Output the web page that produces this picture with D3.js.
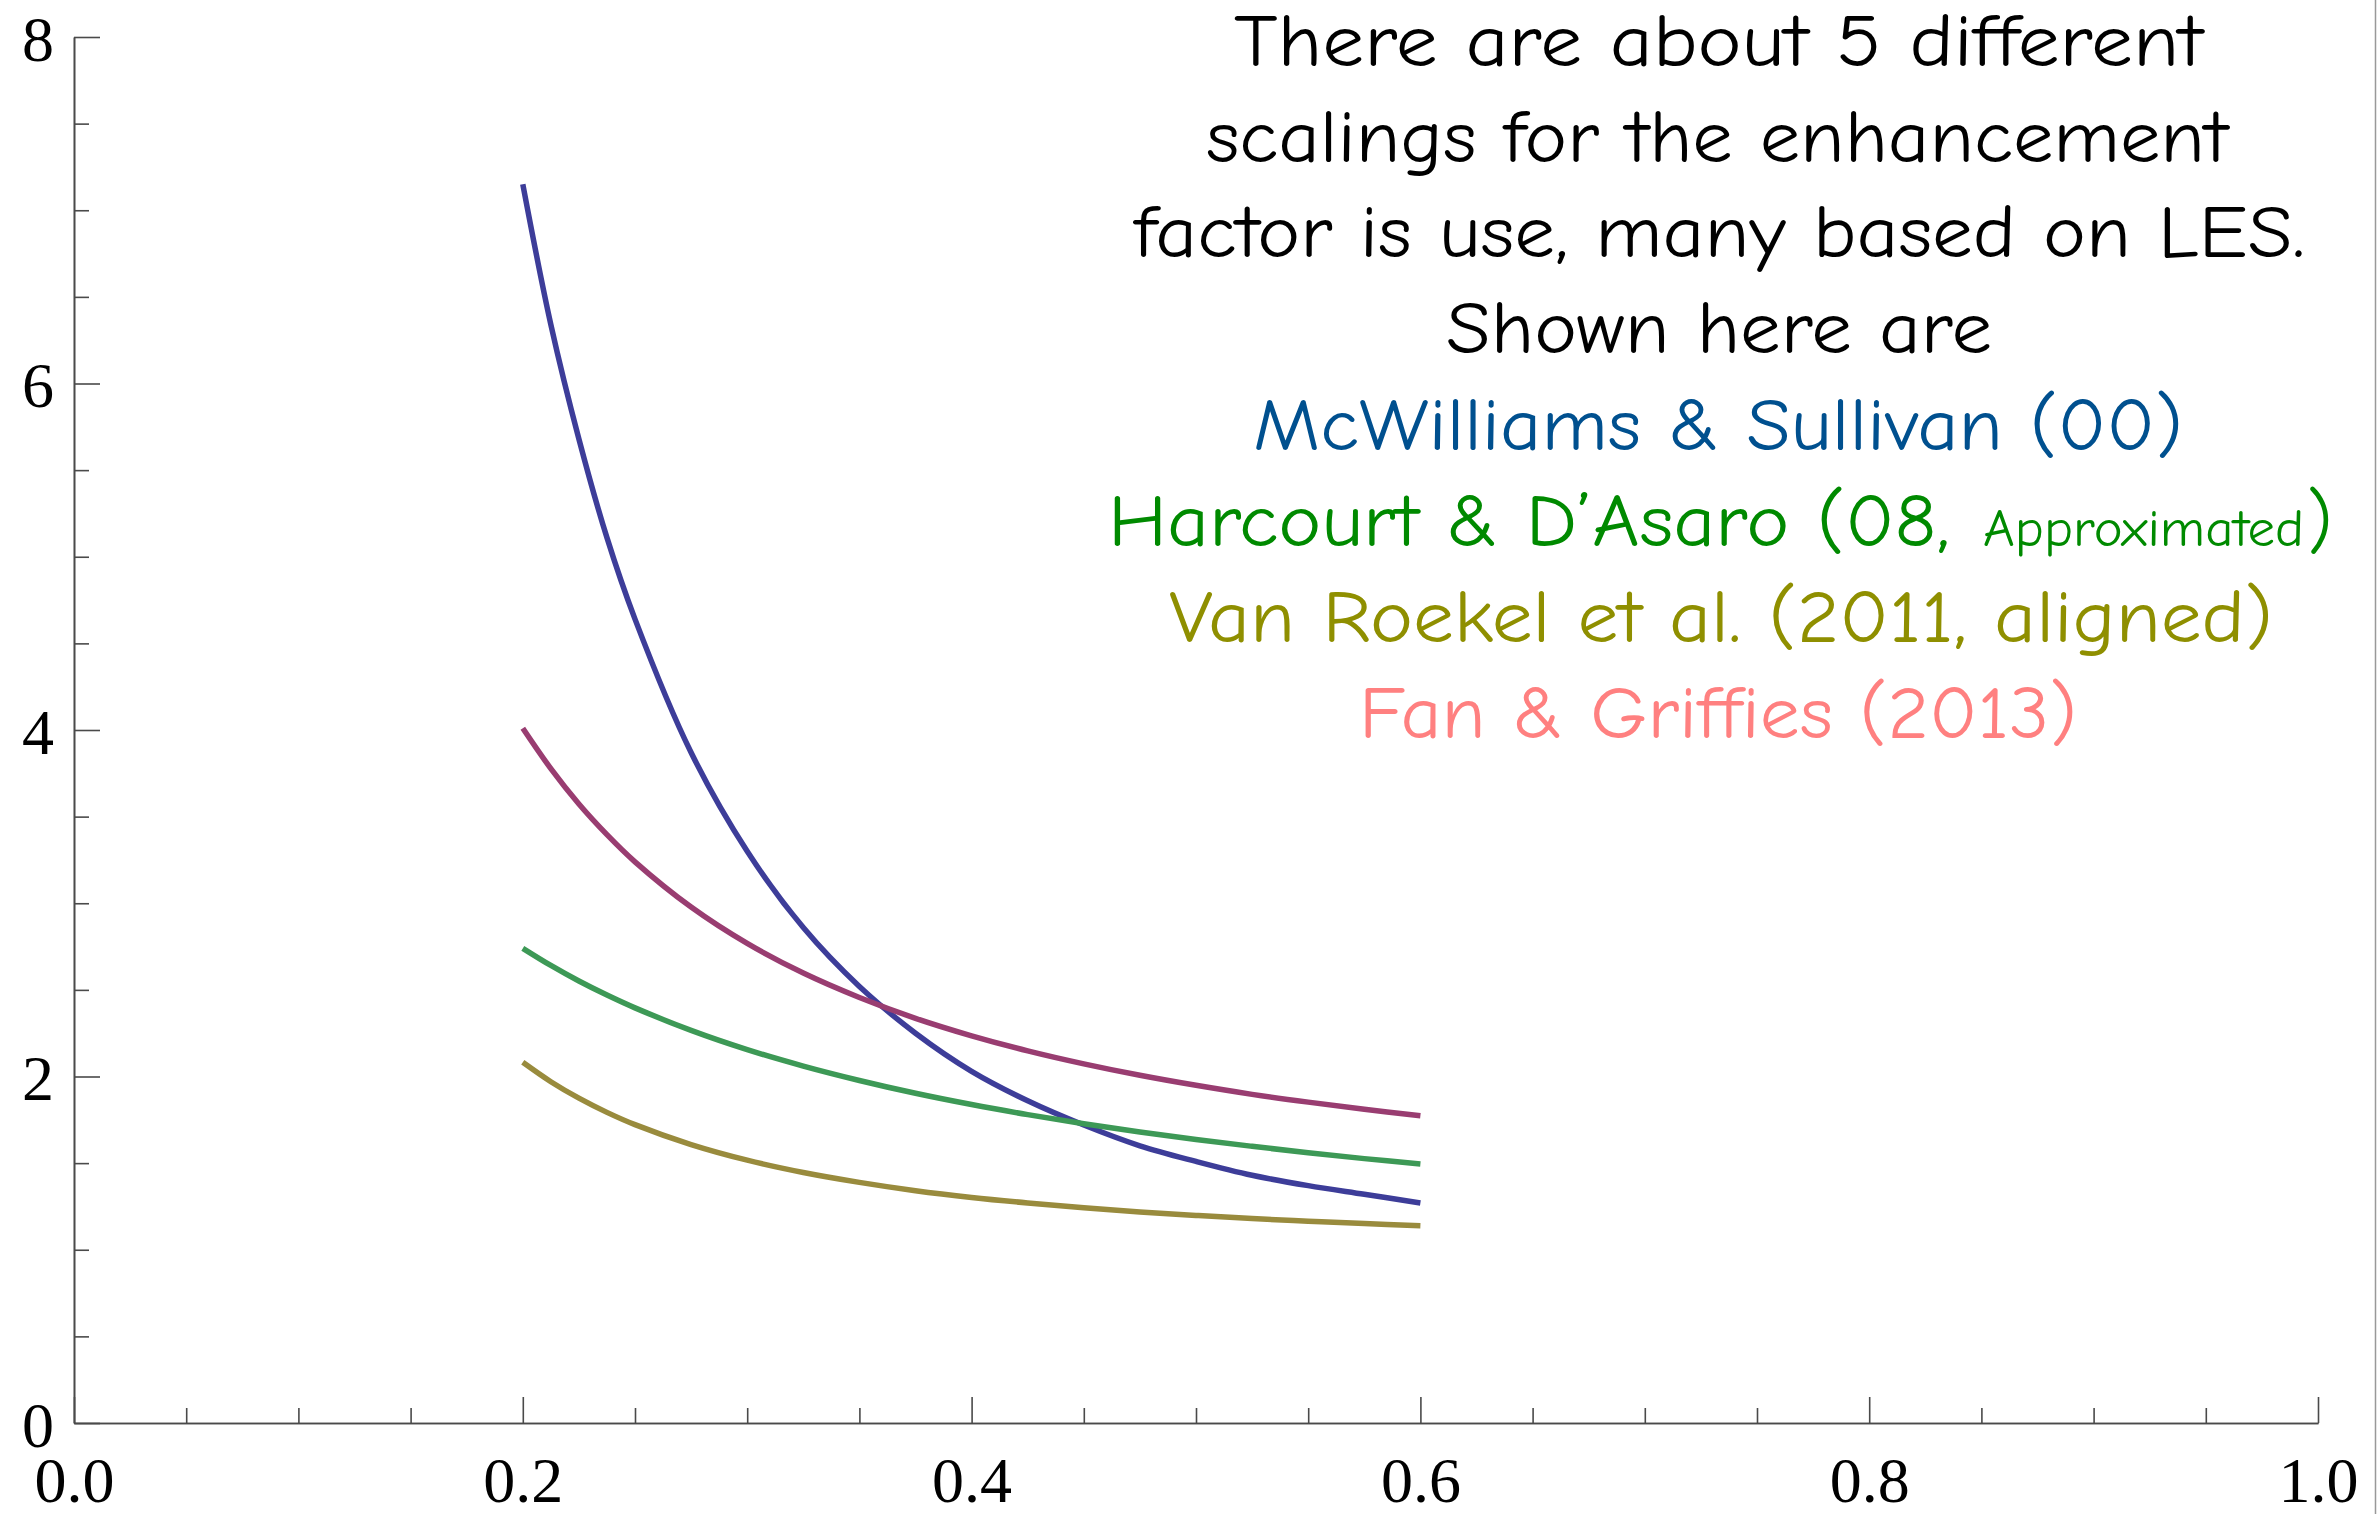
<!DOCTYPE html>
<html>
<head>
<meta charset="utf-8">
<script src="https://cdn.jsdelivr.net/npm/d3@7"></script>
<style>
  html, body { margin: 0; padding: 0; background: #fff; }
  svg { display: block; }
</style>
</head>
<body>
<svg id="chart" width="2377" height="1514"></svg>
<script>
// ---- data ----
const langmuir = [0.2, 0.2125, 0.225, 0.2375, 0.25, 0.275, 0.3, 0.325, 0.35, 0.375, 0.4, 0.425, 0.45, 0.475, 0.5, 0.525, 0.55, 0.575, 0.6];
const mcWilliamsSullivan = [7.15, 6.34, 5.68, 5.11, 4.64, 3.87, 3.30, 2.86, 2.52, 2.25, 2.03, 1.86, 1.72, 1.60, 1.51, 1.43, 1.37, 1.32, 1.27];
const fanGriffies        = [4.01, 3.777, 3.573, 3.396, 3.239, 2.978, 2.768, 2.597, 2.456, 2.336, 2.235, 2.148, 2.073, 2.007, 1.949, 1.897, 1.852, 1.811, 1.774];
const vanRoekel          = [2.082, 1.970, 1.875, 1.793, 1.722, 1.607, 1.517, 1.446, 1.389, 1.341, 1.302, 1.270, 1.242, 1.218, 1.198, 1.180, 1.165, 1.151, 1.139];
const harcourtDAsaro     = [2.740, 2.641, 2.551, 2.470, 2.396, 2.266, 2.155, 2.060, 1.977, 1.903, 1.838, 1.780, 1.727, 1.680, 1.636, 1.597, 1.560, 1.526, 1.495];

const seriesNames  = ["McWilliams & Sullivan", "Fan & Griffies", "Van Roekel", "Harcourt & D’Asaro"];
const seriesValues = [mcWilliamsSullivan, fanGriffies, vanRoekel, harcourtDAsaro];
const seriesColors = ["#3d3d99", "#993d71", "#998b3d", "#3d9956"];

const xMajorTicks = [0.0, 0.2, 0.4, 0.6, 0.8, 1.0];
const xMinorTicks = [0.05, 0.1, 0.15, 0.25, 0.3, 0.35, 0.45, 0.5, 0.55, 0.65, 0.7, 0.75, 0.85, 0.9, 0.95];
const yMajorTicks = [0, 2, 4, 6, 8];
const yMinorTicks = [0.5, 1, 1.5, 2.5, 3, 3.5, 4.5, 5, 5.5, 6.5, 7, 7.5];

const noteLines = [
  "There are about 5 different",
  "scalings for the enhancement",
  "factor is use, many based on LES.",
  "Shown here are",
  "McWilliams & Sullivan (00)",
  "Harcourt & D’Asaro (08, ",
  "Van Roekel et al. (2011, aligned)",
  "Fan & Griffies (2013)"
];
const noteColors = ["#000", "#000", "#000", "#000", "#00508f", "#008a00", "#8f8f00", "#ff8080"];

// ---- layout ----
const svg = d3.select("#chart");
const x = d3.scaleLinear().domain([0, 1]).range([74, 2318]);
const y = d3.scaleLinear().domain([0, 8]).range([1423, 37]);
const axisColor = "#4a4a4a";
const tickFont = "'Liberation Serif', 'Times New Roman', serif";

function styleAxis(g) {
  g.selectAll("path.domain").attr("stroke", axisColor).attr("stroke-width", 1.6);
  g.selectAll(".tick line").attr("stroke", axisColor).attr("stroke-width", 1.6);
  g.selectAll(".tick text").attr("fill", "#000").style("font-family", tickFont).style("font-size", "64px");
}

// x axis
svg.append("g")
  .attr("transform", `translate(0,${y(0)})`)
  .call(d3.axisBottom(x).tickValues(xMinorTicks).tickSize(-15).tickSizeOuter(0).tickFormat(""))
  .call(styleAxis);
svg.append("g")
  .attr("transform", `translate(0,${y(0)})`)
  .call(d3.axisBottom(x).tickValues(xMajorTicks).tickSize(-26).tickSizeOuter(0).tickPadding(34).tickFormat(d3.format(".1f")))
  .call(styleAxis);

// y axis
svg.append("g")
  .attr("transform", `translate(${x(0)},0)`)
  .call(d3.axisLeft(y).tickValues(yMinorTicks).tickSize(-15).tickSizeOuter(0).tickFormat(""))
  .call(styleAxis);
const yg = svg.append("g")
  .attr("transform", `translate(${x(0)},0)`)
  .call(d3.axisLeft(y).tickValues(yMajorTicks).tickSize(-26).tickSizeOuter(0).tickPadding(20).tickFormat(d3.format("d")))
  .call(styleAxis);
yg.selectAll(".tick text").attr("dy", "0.36em");

// curves
const line = d3.line()
  .x((d, i) => x(langmuir[i]))
  .y(d => y(d))
  .curve(d3.curveCatmullRom.alpha(0.5));

svg.append("g").selectAll("path.curve")
  .data(seriesValues)
  .join("path")
  .attr("class", "curve")
  .attr("fill", "none")
  .attr("stroke", (d, i) => seriesColors[i])
  .attr("stroke-width", 5.5)
  .attr("stroke-linecap", "butt")
  .attr("d", line);

// annotation text
const noteFont = "'Comic Sans MS', 'Comic Neue', Lato, 'Open Sans', sans-serif";
const noteLayout = [
  [1234, 2203, 66], [1206, 2228, 162], [1134, 2305, 257], [1446, 1992, 353],
  [1253, 2183, 450], [1108, 1950, 546], [1169, 2273, 642], [1359, 2077, 738]
];
const notes = svg.append("g");
noteLines.forEach((t, i) => {
  const [x0, x1, base] = noteLayout[i];
  notes.append("text")
    .attr("x", x0).attr("y", base)
    .attr("textLength", x1 - x0)
    .attr("lengthAdjust", "spacingAndGlyphs")
    .style("font-family", noteFont)
    .style("font-size", "74px")
    .attr("fill", noteColors[i])
    .text(t);
});
notes.append("text")
  .attr("x", 1983).attr("y", 546)
  .attr("textLength", 321)
  .attr("lengthAdjust", "spacingAndGlyphs")
  .style("font-family", noteFont).style("font-size", "52px")
  .attr("fill", noteColors[5])
  .text("Approximated");
notes.append("text")
  .attr("x", 2307).attr("y", 546)
  .style("font-family", noteFont).style("font-size", "74px")
  .attr("fill", noteColors[5])
  .text(")");

// right frame edge
svg.append("line")
  .attr("x1", 2375.5).attr("x2", 2375.5).attr("y1", 0).attr("y2", 1514)
  .attr("stroke", "#999").attr("stroke-width", 1.5);
</script>
</body>
</html>
